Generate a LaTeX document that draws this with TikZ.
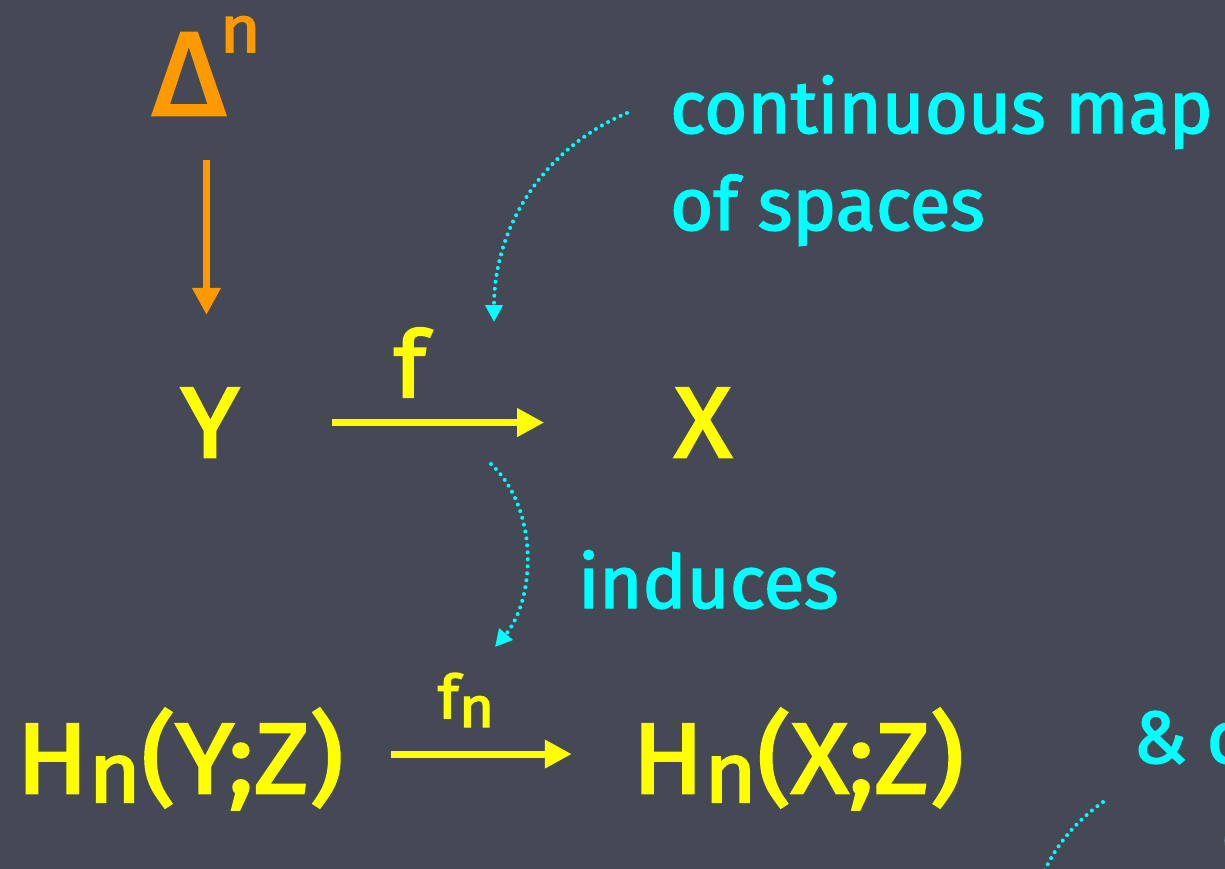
\documentclass[tikz,border=0pt]{standalone}
\usepackage{fontspec}
\setmainfont{Fira Sans}
\newfontfamily\chalknote{Fira Sans}[FakeBold=2]
\newfontfamily\chalkspace{Fira Sans}[FakeBold=2.5, FakeStretch=1.06]
\usepackage{tikz}
\usetikzlibrary{arrows.meta, positioning}
\usepackage{xcolor}
\definecolor{chalkbg}{HTML}{454955}
\definecolor{chalkyellow}{HTML}{FFFF00}
\definecolor{chalkcyan}{HTML}{00FFFF}
\definecolor{chalkorange}{HTML}{FF9900}
\newcommand{\fsz}[1]{\fontsize{#1}{#1}\selectfont}
\newcommand{\lowsub}[3]{\raisebox{#1}{\fsz{#2}#3}}

\begin{document}
\begin{tikzpicture}[x=1pt, y=-1pt,
    every node/.style={inner sep=0pt},
    space/.style={text=chalkyellow, anchor=base, font=\chalkspace\fsz{100}},
    note/.style={text=chalkcyan, anchor=base west, align=left,
                 font=\chalknote\fontsize{74}{97}\selectfont},
    maparrow/.style={-{Triangle[length=27pt, width=27pt]}, chalkyellow,
                     line width=7pt},
    hint/.style={-{Triangle[length=17pt, width=17pt]}, chalkcyan,
                 line width=4pt, line cap=round, dash pattern=on 0pt off 7pt}]
      \fill[chalkbg] (0,0) rectangle (1225,869);
      \useasboundingbox (0,0) rectangle (1225,869);
      \clip (0,0) rectangle (1225,869);
      % spaces and the map
      \node[space, anchor=base west, text=chalkorange, font=\chalkspace\fsz{119}]
        (simplex) at (152,115) {Δ\kern-6pt\lowsub{63pt}{66}{n}};
      \node[space] (Y) at (210,457) {Y};
      \node[space] (X) at (703,457) {X};
      \node[space, font=\chalkspace\fsz{92}] (f) at (410,397) {f};
      \draw[maparrow, chalkorange, shorten <=45pt, shorten >=73pt]
        (simplex.south) -- (simplex.south |- Y.north);
      \draw[maparrow, shorten <=93pt, shorten >=130pt] (Y.east) -- (X.west);
      % homology
      \node[space] (HY) at (180,793) {H\lowsub{-9pt}{85}{n}(Y;Z)};
      \node[space] (HX) at (798,793) {H\lowsub{-9pt}{85}{n}(X;Z)};
      \node[space, font=\chalkspace\fsz{60}] (fn) at (466,718)
        {f\lowsub{-9pt}{57}{n}};
      \draw[maparrow, shorten <=47pt, shorten >=60pt]
        ([yshift=5pt]HY.east) -- ([yshift=5pt]HX.west);
      % cyan remarks
      \node[note] (cmap) at (670,230) {continuous map\\of spaces};
      \node[note] (induces) at (578,608) {induces};
      \node[note] (amp) at (1133,763) {\& c};
      \node[note] (amp2) at (1221,860) {c};
      \coordinate (cmfrom) at (627,113);
      \coordinate (cmto) at (494,322);
      \coordinate (infrom) at (491,464);
      \coordinate (into) at (495,647);
      \coordinate (ampfrom) at (1103,802);
      \coordinate (ampto) at (1032,905);
      \draw[hint] (cmfrom) .. controls (540,150) and (494,230) .. (cmto);
      \draw[hint] (infrom) .. controls (540,510) and (535,600) .. (into);
      \draw[hint] (ampfrom) .. controls (1075,822) and (1050,850) .. (ampto);
\end{tikzpicture}
\end{document}
